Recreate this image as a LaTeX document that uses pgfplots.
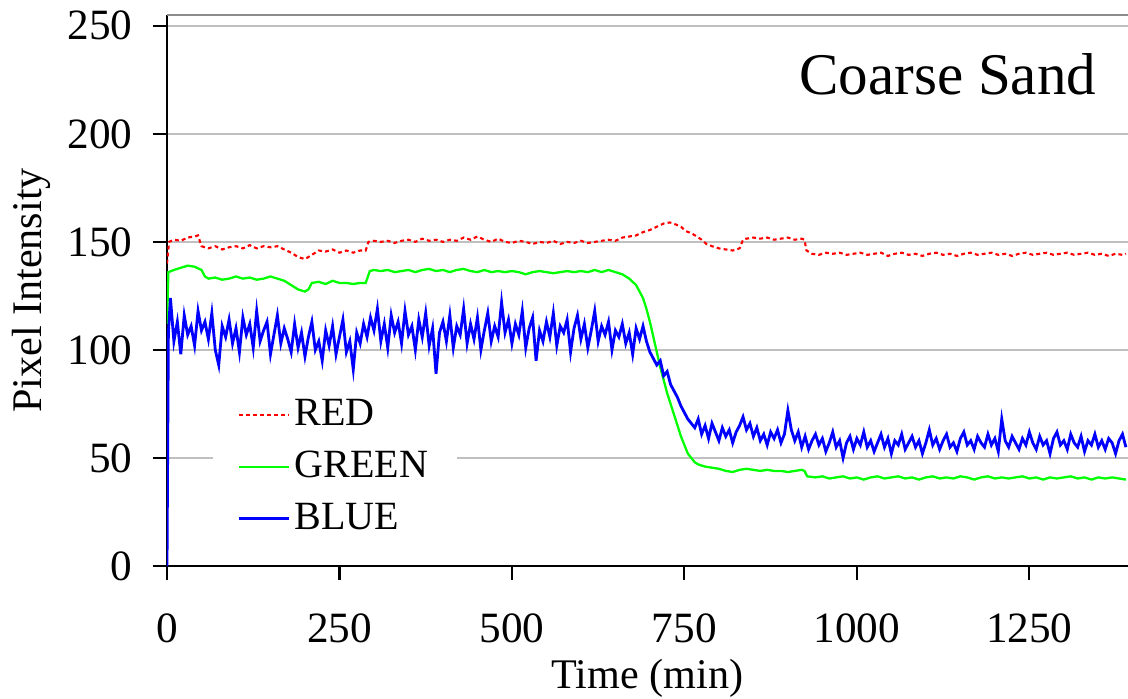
\documentclass[border=0pt]{standalone}
\usepackage{pgfplots}
\pgfplotsset{compat=1.18}
\usepackage{fontspec}
\setmainfont{Liberation Serif}

\definecolor{gridgray}{RGB}{192,192,192}
\definecolor{framegray}{RGB}{140,140,140}

\begin{document}
\begin{tikzpicture}
\begin{axis}[
    name=ax,
    scale only axis,
    width=9.61cm, height=5.51cm,
    xmin=0, xmax=1393,
    ymin=0, ymax=255,
    xtick={0,250,500,750,1000,1250},
    ytick={0,50,100,150,200,250},
    axis x line*=bottom,
    axis y line*=left,
    axis line style={-, black, line width=0.6pt},
    tick align=outside,
    major tick length=1.4mm,
    tick style={black, line width=0.6pt},
    ymajorgrids=true,
    grid style={gridgray, line width=0.6pt},
    /pgf/number format/assume math mode=true,
    /pgf/number format/1000 sep={},
    ticklabel style={font=\fontsize{12.3}{14}\selectfont},
    yticklabel style={xshift=-0.8mm},
    xticklabel style={yshift=-2.1mm},
    xlabel={Time (min)},
    ylabel={Pixel Intensity},
    label style={font=\fontsize{12}{14}\selectfont},
    xlabel style={at={(axis description cs:0.5,-0.2214)}, anchor=base},
    ylabel style={at={(axis description cs:-0.131,0.5)}, anchor=base, rotate=0},
    legend style={
        at={(axis description cs:0.047,0.325)}, anchor=north west,
        draw=none, fill=white,
        font=\fontsize{11.4}{13}\selectfont,
        inner xsep=2.5mm, inner ysep=0.8mm,
        row sep=1.2mm,
        nodes={inner sep=0.4mm},
    },
    legend cell align=left,
    legend image code/.code={\draw[#1] (0mm,0mm) -- (5mm,0mm);},
    every axis legend/.append style={/tikz/every even column/.style={column sep=0.5mm}},
]

% RED channel
\addplot[color=red, line width=0.6pt, dash pattern=on 1.1pt off 0.9pt]
coordinates {
(0,140)(3,150)(10,151)(20,150.5)(30,152)(40,152.5)(45,153)(50,148)(60,147)(70,148)
(80,146.5)(90,147.5)(100,148)(110,147)(120,148.5)(130,147)(140,148)(150,147.5)(160,148)(170,146.5)
(180,145)(190,143)(200,142)(210,144)(220,146)(230,145.5)(240,146.5)(250,145)(260,146)(270,145)
(280,146)(288,146)(292,150)(300,150.5)(310,150)(320,150.5)(330,149.5)(340,150.5)(350,151)(360,150)
(370,151.5)(380,150.5)(390,151)(400,150)(410,151)(420,150.5)(430,152)(440,151)(450,152.5)(460,151)
(470,150)(480,151.5)(490,150)(500,149.5)(510,150.5)(520,150)(530,149)(540,150)(550,149.5)(560,150.5)
(570,149)(580,150)(590,149.5)(600,150.5)(610,149.5)(620,150)(630,150.5)(640,151)(650,150.5)(660,152)
(670,152.5)(680,153)(690,154.5)(700,155.5)(710,157)(720,158.5)(729,159)(738,158)(745,157)(752,155)
(760,154)(768,152.5)(775,151)(782,149)(790,148)(800,147)(810,146.5)(820,146)(830,147)(835,151)
(840,151.5)(850,152)(860,151.5)(870,152)(880,151)(890,151.5)(900,152)(910,151)(920,151.5)(924,151)
(927,146)(935,144.5)(945,144)(955,145)(965,144.5)(975,145)(985,144)(995,144.5)(1005,145)(1015,144)
(1025,144.5)(1035,145)(1045,143.5)(1055,144.5)(1065,145)(1075,144)(1085,144.5)(1095,143.5)(1105,144.5)(1115,145)
(1125,144)(1135,144.5)(1145,143.5)(1155,144.5)(1165,145)(1175,144)(1185,144.5)(1195,145)(1205,144)(1215,144.5)
(1225,143.5)(1235,144.5)(1245,145)(1255,144)(1265,144.5)(1275,145)(1285,144)(1295,144.5)(1305,145)(1315,144)
(1325,144.5)(1335,145)(1345,144)(1355,144.5)(1365,143.5)(1375,144.5)(1385,144)(1390,144.5)
};
\addlegendentry{RED}

% GREEN channel
\addplot[color=green, line width=0.65pt]
coordinates {
(0,112)(2,136)(10,137)(20,138)(30,139)(40,138.5)(50,137)(55,134)(60,133)(70,133.5)
(80,132.5)(90,133)(100,134)(110,133)(120,133.5)(130,132.5)(140,133)(150,134)(160,133)(170,132)
(180,130)(190,128)(200,127)(205,128)(210,131)(220,131.5)(230,130.5)(240,132)(250,131)(260,131)
(270,130.5)(280,131)(288,131)(294,136.5)(300,137)(310,136.5)(320,137)(330,136)(340,136.5)(350,137)
(360,136)(370,137)(380,137.5)(390,136.5)(400,137)(410,136)(420,137)(430,137.5)(440,136.5)(450,136)
(460,137)(470,136)(480,136.5)(490,136)(500,136.5)(510,136)(520,135)(530,136)(540,136.5)(550,136)
(560,135.5)(570,136)(580,136.5)(590,136)(600,136.5)(610,136)(620,137)(630,136)(640,137)(650,136)
(660,135)(670,133)(680,130)(690,124)(695,119)(700,113)(705,106)(710,99)(715,92)(720,86)
(725,80)(730,75)(735,70)(740,65)(745,60)(750,56)(755,52)(760,50)(765,48)(770,47)
(780,46)(790,45.5)(800,45)(810,44)(820,43.5)(830,44.5)(840,45)(850,44.5)(860,44)(870,44.5)
(880,44)(890,44)(900,43.5)(910,44)(920,44.5)(924,44)(928,41.5)(940,41)(950,41.5)(960,40.5)
(970,41)(980,41.5)(990,40.5)(1000,41)(1010,40)(1020,41)(1030,41.5)(1040,40.5)(1050,41)(1060,41.5)
(1070,40.5)(1080,41)(1090,40)(1100,41)(1110,41.5)(1120,40.5)(1130,41)(1140,40.5)(1150,41.5)(1160,41)
(1170,40)(1180,41)(1190,41.5)(1200,40.5)(1210,41)(1220,40.5)(1230,41)(1240,41.5)(1250,40.5)(1260,41)
(1270,40)(1280,41)(1290,40.5)(1300,41)(1310,41.5)(1320,40.5)(1330,41)(1340,40)(1350,41)(1360,40.5)
(1370,41)(1380,40.5)(1390,40)
};
\addlegendentry{GREEN}

% BLUE channel
\addplot[color=blue, line width=0.8pt]
coordinates {
(0,0)(2,108)(5,124)(10,104)(15,113)(20,98)(25,116)(30,107)(35,111)(40,102)(45,118)
(50,109)(55,113)(60,105)(65,117)(70,100)(75,93)(80,111)(85,106)(90,114)(95,103)
(100,110)(105,99)(110,115)(115,107)(120,112)(125,101)(130,118)(135,104)(140,109)(145,113)
(150,98)(155,107)(160,116)(165,103)(170,110)(175,105)(180,99)(185,112)(190,101)(195,108)
(200,97)(205,106)(210,113)(215,100)(220,104)(225,95)(230,109)(235,102)(240,111)(245,98)
(250,106)(255,114)(260,99)(265,104)(270,91)(275,108)(280,103)(285,112)(290,106)(295,115)
(300,109)(305,119)(310,104)(315,112)(320,101)(325,116)(330,108)(335,113)(340,103)(345,118)
(350,107)(355,111)(360,100)(365,114)(370,106)(375,117)(380,102)(385,110)(390,89)(395,108)
(400,113)(405,104)(410,116)(415,101)(420,111)(425,107)(430,119)(435,103)(440,112)(445,105)
(450,115)(455,100)(460,109)(465,117)(470,104)(475,111)(480,106)(485,122)(490,108)(495,114)
(500,103)(505,112)(510,107)(515,118)(520,101)(525,110)(530,115)(535,95)(540,109)(545,104)
(550,113)(555,106)(560,117)(565,102)(570,111)(575,108)(580,114)(585,99)(590,110)(595,116)
(600,105)(605,112)(610,101)(615,109)(620,118)(625,104)(630,111)(635,107)(640,113)(645,100)
(650,109)(655,106)(660,112)(665,103)(670,108)(675,98)(680,110)(685,105)(690,111)(695,104)
(700,99)(705,96)(710,93)(715,95)(720,88)(725,90)(730,84)(735,81)(740,78)(745,74)
(750,71)(755,68)(760,66)(765,64)(770,68)(775,61)(780,65)(785,59)(790,66)(795,62)
(800,58)(805,64)(810,60)(815,63)(820,57)(825,62)(830,65)(835,69)(840,63)(845,66)
(850,60)(855,64)(860,58)(865,61)(870,56)(875,62)(880,59)(885,63)(890,57)(895,61)
(900,72)(905,63)(910,58)(915,62)(920,55)(925,60)(930,54)(935,58)(940,61)(945,56)
(950,59)(955,53)(960,57)(965,62)(970,55)(975,58)(980,50)(985,57)(990,60)(995,54)
(1000,59)(1005,56)(1010,62)(1015,55)(1020,58)(1025,53)(1030,57)(1035,61)(1040,55)(1045,59)
(1050,52)(1055,58)(1060,56)(1065,61)(1070,54)(1075,57)(1080,60)(1085,55)(1090,58)(1095,52)
(1100,57)(1105,63)(1110,56)(1115,59)(1120,54)(1125,58)(1130,61)(1135,55)(1140,57)(1145,53)
(1150,59)(1155,62)(1160,56)(1165,58)(1170,54)(1175,60)(1180,57)(1185,55)(1190,61)(1195,56)
(1200,59)(1205,53)(1210,68)(1215,58)(1220,55)(1225,60)(1230,57)(1235,54)(1240,59)(1245,56)
(1250,62)(1255,57)(1260,54)(1265,60)(1270,56)(1275,58)(1280,52)(1285,59)(1290,62)(1295,56)
(1300,58)(1305,54)(1310,61)(1315,57)(1320,55)(1325,60)(1330,53)(1335,58)(1340,56)(1345,61)
(1350,55)(1355,58)(1360,54)(1365,59)(1370,57)(1375,52)(1380,58)(1385,61)(1390,55)
};
\addlegendentry{BLUE}

% top frame line of the plot area
\draw[framegray, line width=0.6pt] (rel axis cs:0,1) -- (rel axis cs:1,1);

\node[anchor=base east, inner sep=0pt, font=\fontsize{16.8}{20}\selectfont] at (axis cs:1348,218) {Coarse Sand};
\end{axis}
\pgfresetboundingbox
\path ([shift={(-1.67cm,-1.32cm)}]ax.south west) rectangle ([shift={(0cm,0.15cm)}]ax.north east);
\end{tikzpicture}
\end{document}
